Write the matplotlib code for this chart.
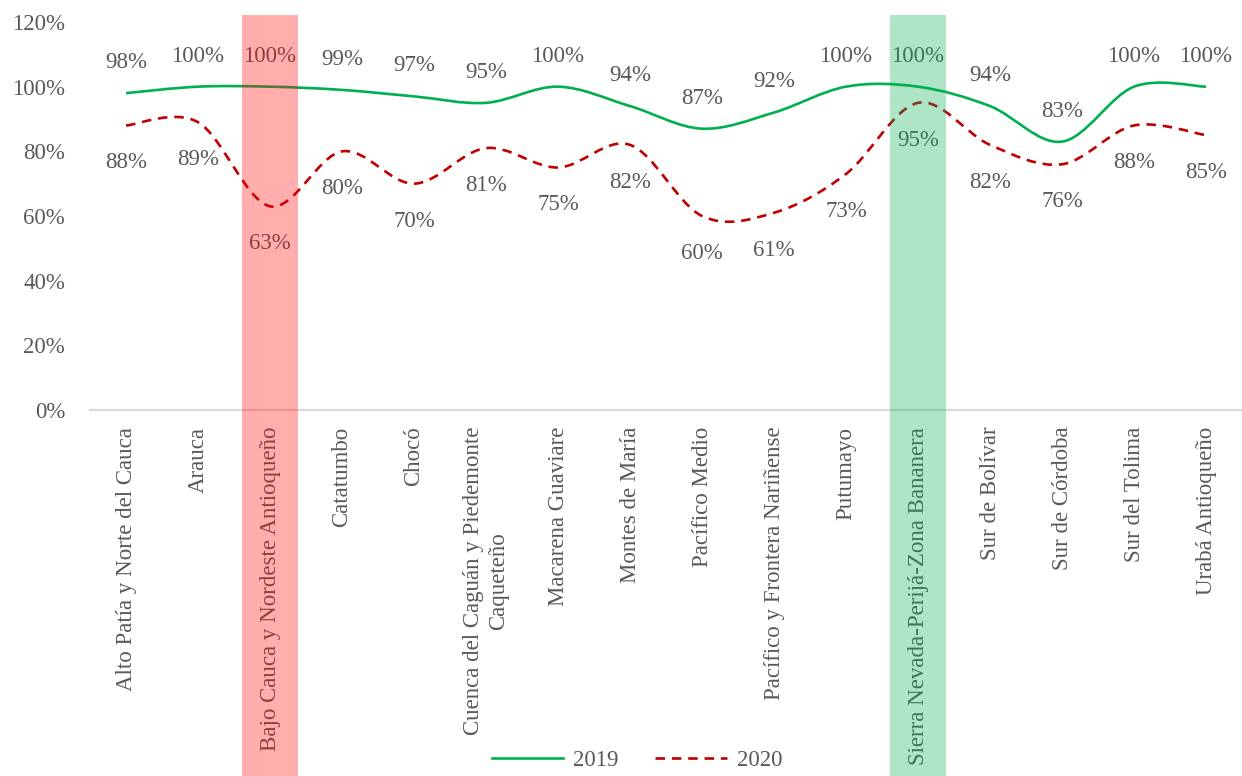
import matplotlib
matplotlib.use("Agg")
import matplotlib.pyplot as plt
import matplotlib.transforms as mtransforms
from matplotlib.path import Path
from matplotlib.patches import PathPatch, Rectangle
from matplotlib.lines import Line2D
import numpy as np

plt.rcParams['font.family'] = ['Liberation Serif', 'DejaVu Serif']

categorias = [
    "Alto Patía y Norte del Cauca", "Arauca", "Bajo Cauca y Nordeste Antioqueño",
    "Catatumbo", "Chocó", "Cuenca del Caguán y Piedemonte\nCaqueteño",
    "Macarena Guaviare", "Montes de María", "Pacífico Medio",
    "Pacífico y Frontera Nariñense", "Putumayo", "Sierra Nevada-Perijá-Zona Bananera",
    "Sur de Bolívar", "Sur de Córdoba", "Sur del Tolima", "Urabá Antioqueño",
]
v2019 = [98, 100, 100, 99, 97, 95, 100, 94, 87, 92, 100, 100, 94, 83, 100, 100]
v2020 = [88, 89, 63, 80, 70, 81, 75, 82, 60, 61, 73, 95, 82, 76, 88, 85]
destacados = {2: "#FF0000", 11: "#00B050"}

GRIS = "#595959"
VERDE = "#00B050"
ROJO = "#C00000"
FS = 16.5
DASH = (0, (3.6, 2.6))


def curva_suave(x, y):
    # Excel-style smoothed line as cubic Bezier segments
    p = np.column_stack([x, y]).astype(float)
    ext = np.vstack([p[0], p, p[-1]])
    verts = [p[0]]
    codes = [Path.MOVETO]
    for i in range(len(p) - 1):
        a, b, c, d = ext[i], ext[i + 1], ext[i + 2], ext[i + 3]
        verts += [b + (c - a) / 6, c - (d - b) / 6, c]
        codes += [Path.CURVE4] * 3
    return Path(verts, codes)


fig = plt.figure(figsize=(12.42, 7.76), dpi=100)
ax = fig.add_axes([0.0725, 1 - 410 / 776, 1 - 0.0725, (410 - 22) / 776])

x = np.arange(len(categorias))
y19 = np.array(v2019) / 100
y20 = np.array(v2020) / 100

ax.add_patch(PathPatch(curva_suave(x, y19), fill=False, edgecolor=VERDE, lw=1.9, zorder=3))
ax.add_patch(PathPatch(curva_suave(x, y20), fill=False, edgecolor=ROJO, lw=1.9,
                       linestyle=DASH, zorder=3))

for xi, v in zip(x, v2019):
    ax.annotate(f"{v}%", (xi, v / 100), xytext=(0, 22), textcoords="offset points",
                ha="center", va="center", fontsize=FS, color=GRIS, zorder=2)
for xi, v in zip(x, v2020):
    ax.annotate(f"{v}%", (xi, v / 100), xytext=(0, -27), textcoords="offset points",
                ha="center", va="center", fontsize=FS, color=GRIS, zorder=2)

ax.set_xlim(-0.5, len(categorias) - 0.5)
ax.set_ylim(0, 1.2)
ax.set_yticks(np.arange(0, 1.21, 0.2))
ax.set_yticklabels([f"{int(round(t * 100))}%" for t in np.arange(0, 1.21, 0.2)])
ax.set_xticks(x)
ax.set_xticklabels(categorias, rotation=90, multialignment="center")
ax.tick_params(axis="both", length=0, labelsize=FS, labelcolor=GRIS)
ax.tick_params(axis="y", pad=18)
ax.tick_params(axis="x", pad=12)
for s in ["top", "right", "left"]:
    ax.spines[s].set_visible(False)
ax.spines["bottom"].set_color("#D9D9D9")
ax.spines["bottom"].set_linewidth(1.5)

trans = mtransforms.blended_transform_factory(ax.transData, fig.transFigure)
for idx, col in destacados.items():
    ax.add_patch(Rectangle((idx - 0.395, 0), 0.79, 1 - 15 / 776, transform=trans,
                           facecolor=col, alpha=0.32, edgecolor="none",
                           clip_on=False, zorder=5))

handles = [Line2D([], [], color=VERDE, lw=1.9),
           Line2D([], [], color=ROJO, lw=1.9, linestyle=DASH)]
fig.legend(handles, ["2019", "2020"], loc="lower center", bbox_to_anchor=(0.513, -0.02),
           ncol=2, frameon=False, fontsize=FS, labelcolor=GRIS, handlelength=3.1,
           handletextpad=0.45, columnspacing=1.6)

fig.savefig("out.png", dpi=100)
